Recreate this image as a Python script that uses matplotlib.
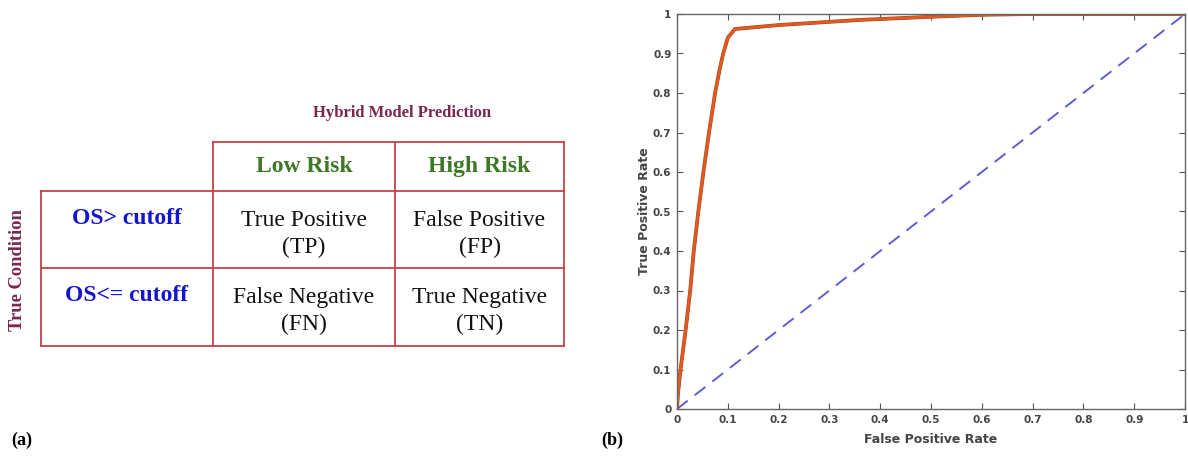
import matplotlib
matplotlib.use("Agg")
import matplotlib.pyplot as plt
import matplotlib.patheffects as pe
import numpy as np

# ---- (a) confusion matrix layout ----
col_labels = ["Low Risk", "High Risk"]
row_labels = ["OS> cutoff", "OS<= cutoff"]
cell_text = [["True Positive\n(TP)", "False Positive\n(FP)"],
             ["False Negative\n(FN)", "True Negative\n(TN)"]]

# ---- (b) ROC curve ----
fpr = [0, 0.002, 0.007, 0.017, 0.026, 0.033, 0.042, 0.052, 0.063, 0.075,
       0.084, 0.091, 0.100, 0.114, 0.2, 0.36, 0.5, 0.6, 0.7, 1.0]
tpr = [0, 0.04, 0.1, 0.2, 0.3, 0.4, 0.5, 0.6, 0.7, 0.8,
       0.86, 0.9, 0.94, 0.962, 0.972, 0.985, 0.993, 0.998, 1.0, 1.0]
chance = [0, 1]

W, H = 1188, 461
fig = plt.figure(figsize=(W / 100, H / 100), dpi=100)

serif = "Liberation Serif"
line_red = "#c4424a"
maroon = "#7a2650"
green = "#3e7a26"
blue = "#1515d0"
cell_size = 17

# table drawn in pixel coordinates
ax_t = fig.add_axes([0, 0, 1, 1])
ax_t.set_xlim(0, W)
ax_t.set_ylim(H, 0)
ax_t.axis("off")

xs = [41, 213, 395, 564]
ys = [142, 191, 268, 346]
lw = 1.3
# header row only spans the two prediction columns
ax_t.plot([xs[1], xs[3]], [ys[0], ys[0]], color=line_red, lw=lw)
for y in ys[1:]:
    ax_t.plot([xs[0], xs[3]], [y, y], color=line_red, lw=lw)
ax_t.plot([xs[0], xs[0]], [ys[1], ys[3]], color=line_red, lw=lw)
for x in xs[1:]:
    ax_t.plot([x, x], [ys[0], ys[3]], color=line_red, lw=lw)

ax_t.text(402, 113, "Hybrid Model Prediction", family=serif,
          weight="bold", size=12, color=maroon, ha="center", va="center")
ax_t.text(18, 270, "True Condition", family=serif,
          weight="bold", size=13.3, color=maroon, ha="center", va="center",
          rotation=90)

for j, lab in enumerate(col_labels):
    ax_t.text((xs[j + 1] + xs[j + 2]) / 2, 166, lab, family=serif,
              weight="bold", size=cell_size, color=green, ha="center", va="center")

row_tops = [ys[1], ys[2]]
for i, lab in enumerate(row_labels):
    ax_t.text((xs[0] + xs[1]) / 2, row_tops[i] + 27, lab, family=serif,
              weight="bold", size=cell_size, color=blue, ha="center", va="center")
    for j in range(2):
        ax_t.text((xs[j + 1] + xs[j + 2]) / 2, row_tops[i] + 43, cell_text[i][j],
                  family=serif, size=cell_size, color="#111111", ha="center",
                  va="center", linespacing=1.38)

ax_t.text(11, 440, "(a)", family=serif, weight="bold", size=13, va="center")
ax_t.text(601, 440, "(b)", family=serif, weight="bold", size=13, va="center")

# ROC axes
ax = fig.add_axes([677 / W, 1 - 409 / H, 508 / W, 395 / H])
ax.plot(chance, chance, color="#5e5ed2", lw=1.4, dashes=(7, 4.5))
ax.plot(fpr, tpr, color="#e45a1e", lw=2.0, solid_capstyle="round",
        path_effects=[pe.Stroke(linewidth=2.7, foreground="#9a4420"), pe.Normal()])
ax.set_xlim(0, 1)
ax.set_ylim(0, 1)
ticks = np.round(np.arange(0, 1.01, 0.1), 1)
tick_labels = ["0"] + [f"{t:g}" for t in ticks[1:-1]] + ["1"]
ax.set_xticks(ticks)
ax.set_xticklabels(tick_labels)
ax.set_yticks(ticks)
ax.set_yticklabels(tick_labels)
ax.tick_params(direction="in", length=4, width=0.8, color="#555555",
               labelsize=7.5, labelcolor="#444444", top=True, right=True, pad=4)
for lbl in ax.get_xticklabels() + ax.get_yticklabels():
    lbl.set_fontweight("bold")
for sp in ax.spines.values():
    sp.set_color("#666666")
    sp.set_linewidth(1.0)
ax.set_xlabel("False Positive Rate", fontsize=9, fontweight="bold",
              color="#444444", labelpad=6)
ax.set_ylabel("True Positive Rate", fontsize=9, fontweight="bold",
              color="#444444", labelpad=1)

fig.savefig("out.png", dpi=100)
